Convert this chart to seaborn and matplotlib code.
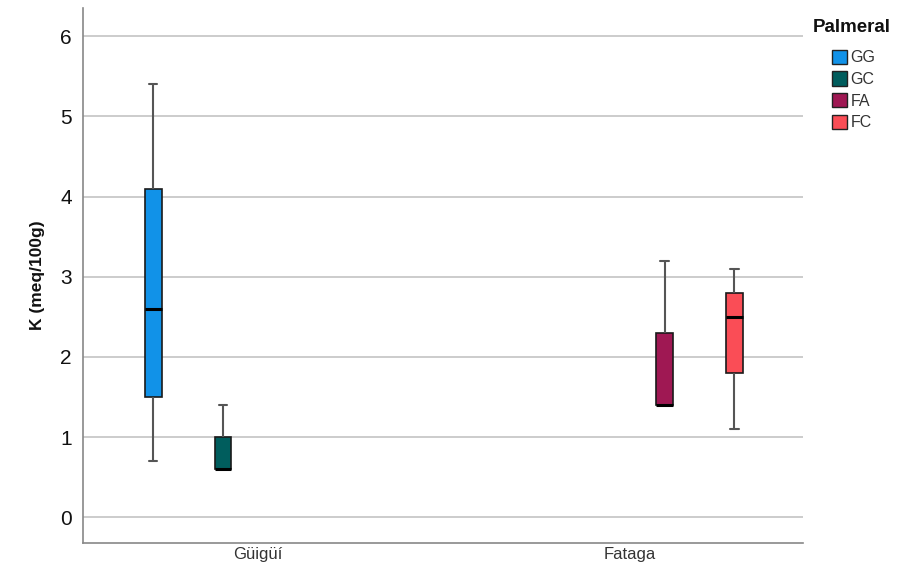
import numpy as np
import pandas as pd
import matplotlib
matplotlib.use("Agg")
import matplotlib.pyplot as plt
import seaborn as sns
from matplotlib.patches import Patch

# Five-number summaries (min, Q1, median, Q3, max)
sites = ["Güigüí", "Güigüí", "Fataga", "Fataga"]
palmerals = ["GG", "GC", "FA", "FC"]
gg_vals = [0.7, 1.5, 2.6, 4.1, 5.4]
gc_vals = [0.6, 0.6, 0.6, 1.0, 1.4]
fa_vals = [1.4, 1.4, 1.4, 2.3, 3.2]
fc_vals = [1.1, 1.8, 2.5, 2.8, 3.1]
site_order = ["Güigüí", "Fataga"]
colors = ["#1192e8", "#005d5d", "#9f1853", "#fa4d56"]
y_ticks = [0, 1, 2, 3, 4, 5, 6]

rows = []
for s, p, vals in zip(sites, palmerals, [gg_vals, gc_vals, fa_vals, fc_vals]):
    for v in vals:
        rows.append({"Site": s, "Palmeral": p, "K": v})
df = pd.DataFrame(rows)

sns.set_theme(style="white")
plt.rcParams["font.family"] = ["Liberation Sans", "DejaVu Sans"]

fig = plt.figure(figsize=(9.02, 5.77), dpi=100)
ax = fig.add_axes([0.092, 0.059, 0.798, 0.927])

sns.boxplot(data=df, x="Site", y="K", hue="Palmeral", order=site_order,
            hue_order=palmerals, palette=colors, whis=np.inf, width=0.75,
            gap=0.76, dodge=True, saturation=1, linewidth=1.2, ax=ax,
            boxprops=dict(edgecolor="#1a1a1a"),
            whiskerprops=dict(color="#555555", linewidth=1.5),
            capprops=dict(color="#555555", linewidth=1.5),
            medianprops=dict(color="#000000", linewidth=2.2),
            legend=False, zorder=3)

ax.set_xlim(-0.47, 1.465)
ax.set_ylim(-0.32, 6.35)
ax.set_yticks(y_ticks)
ax.set_yticklabels([str(t) for t in y_ticks], fontsize=15, color="#111111")
ax.tick_params(axis="x", labelsize=12, labelcolor="#333333", length=0, pad=3)
ax.tick_params(axis="y", length=0, pad=8)
ax.yaxis.grid(True, color="#c8c8c8", linewidth=1.3, zorder=0)
ax.set_axisbelow(True)
for side in ["top", "right"]:
    ax.spines[side].set_visible(False)
for side in ["left", "bottom"]:
    ax.spines[side].set_color("#888888")
    ax.spines[side].set_linewidth(1.2)
ax.set_xlabel("")
ax.set_ylabel("K (meq/100g)", fontsize=12.5, fontweight="bold", color="#111111",
              labelpad=11)

handles = [Patch(facecolor=c, edgecolor="#222222", linewidth=1.0, label=p)
           for c, p in zip(colors, palmerals)]
leg = fig.legend(handles=handles, loc="upper left", bbox_to_anchor=(0.9155, 0.925),
                 frameon=False, fontsize=11.5, handlelength=0.95, handleheight=1.0,
                 handletextpad=0.2, labelspacing=0.38, borderaxespad=0)
for t in leg.get_texts():
    t.set_color("#333333")
fig.text(0.9015, 0.953, "Palmeral", fontsize=13.5, fontweight="bold",
         color="#111111", ha="left", va="center")

fig.savefig("out.png", dpi=100)
